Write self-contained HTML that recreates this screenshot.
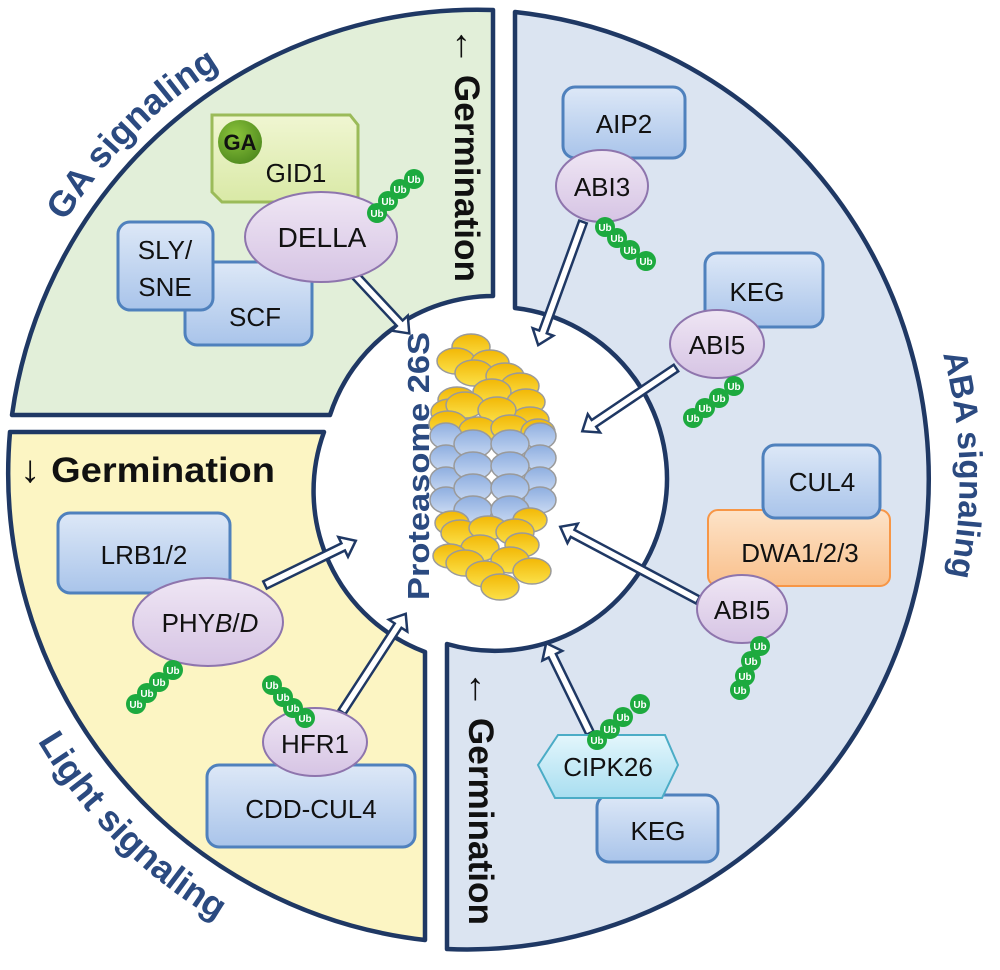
<!DOCTYPE html>
<html><head><meta charset="utf-8"><style>
html,body{margin:0;padding:0;background:#fff;}
svg{display:block;font-family:"Liberation Sans",sans-serif;}
</style></head><body>
<svg width="1000" height="970" viewBox="0 0 1000 970" xmlns="http://www.w3.org/2000/svg">
<defs>
<linearGradient id="bx" x1="0" y1="0" x2="0" y2="1"><stop offset="0" stop-color="#dde8f7"/><stop offset="1" stop-color="#a9c4ea"/></linearGradient>
<linearGradient id="el" x1="0" y1="0" x2="0" y2="1"><stop offset="0" stop-color="#efe6f4"/><stop offset="1" stop-color="#d6c4e4"/></linearGradient>
<linearGradient id="gr" x1="0" y1="0" x2="0" y2="1"><stop offset="0" stop-color="#f0f6d2"/><stop offset="1" stop-color="#d9e9a6"/></linearGradient>
<linearGradient id="or" x1="0" y1="0" x2="0" y2="1"><stop offset="0" stop-color="#fde3c8"/><stop offset="1" stop-color="#f9c08c"/></linearGradient>
<linearGradient id="cy" x1="0" y1="0" x2="0" y2="1"><stop offset="0" stop-color="#e3f6fc"/><stop offset="1" stop-color="#a8def0"/></linearGradient>
<linearGradient id="yl" x1="0" y1="0" x2="0" y2="1"><stop offset="0" stop-color="#f2b705"/><stop offset="1" stop-color="#fbe14a"/></linearGradient>
<linearGradient id="bl" x1="0" y1="0" x2="0" y2="1"><stop offset="0" stop-color="#8eaee0"/><stop offset="1" stop-color="#c9d9f2"/></linearGradient>
<radialGradient id="ga" cx="0.4" cy="0.35" r="0.7"><stop offset="0" stop-color="#8cc43c"/><stop offset="1" stop-color="#4f8a1e"/></radialGradient>
<path id="pGA" d="M -9,480 A 487 487 0 0 1 478,-7"/>
<path id="pLi" d="M -34,480 A 512 512 0 0 0 478,992"/>
<path id="pABA" d="M 895,239 A 482 482 0 0 1 895,721"/>
</defs>

<path d="M12,415 A470 470 0 0 1 493,10 L493,296 A172 172 0 0 0 330,415 Z" fill="#e2efd9" stroke="#1f3864" stroke-width="4.5" stroke-linejoin="round"/>
<path d="M10,432 L324,432 A172 172 0 0 0 425,652 L425,940 A470 470 0 0 1 10,432 Z" fill="#fcf5c3" stroke="#1f3864" stroke-width="4.5" stroke-linejoin="round"/>
<path d="M515,12 L515,308 A172 172 0 1 1 447,644 L447,949 A462 470 0 0 0 515,12 Z" fill="#dbe4f1" stroke="#1f3864" stroke-width="4.5" stroke-linejoin="round"/>

<text font-size="36" font-weight="bold" fill="#2b4a80"><textPath href="#pGA" startOffset="50%" text-anchor="middle">GA signaling</textPath></text>
<text font-size="36" font-weight="bold" fill="#2b4a80"><textPath href="#pLi" startOffset="50%" text-anchor="middle">Light signaling</textPath></text>
<text font-size="33" font-weight="bold" fill="#2b4a80"><textPath href="#pABA" startOffset="47%" text-anchor="middle">ABA signaling</textPath></text>

<text transform="translate(455,27) rotate(90)" font-size="35" font-weight="bold" fill="#111" textLength="255" lengthAdjust="spacingAndGlyphs"><tspan font-size="38">←</tspan> Germination</text>
<text transform="translate(469,670) rotate(90)" font-size="35" font-weight="bold" fill="#111" textLength="255" lengthAdjust="spacingAndGlyphs"><tspan font-size="38">←</tspan> Germination</text>
<text x="20" y="482" font-size="35" font-weight="bold" fill="#111" textLength="255" lengthAdjust="spacingAndGlyphs"><tspan font-size="38">↓</tspan> Germination</text>
<text transform="translate(429,600) rotate(-90)" font-size="31" font-weight="bold" fill="#2b4a80" textLength="268" lengthAdjust="spacingAndGlyphs">Proteasome 26S</text>

<g stroke="#9a9a9a" stroke-width="1.5">
<g fill="url(#yl)">
<ellipse cx="471" cy="347" rx="19" ry="13"/><ellipse cx="456" cy="361" rx="19" ry="13"/><ellipse cx="490" cy="363" rx="19" ry="13"/>
<ellipse cx="474" cy="373" rx="19" ry="13"/><ellipse cx="505" cy="376" rx="19" ry="13"/><ellipse cx="520" cy="386" rx="19" ry="13"/>
<ellipse cx="492" cy="392" rx="19" ry="13"/><ellipse cx="526" cy="402" rx="19" ry="13"/>
<ellipse cx="457" cy="400" rx="19" ry="13"/><ellipse cx="450" cy="412" rx="19" ry="13"/><ellipse cx="530" cy="420" rx="19" ry="13"/>
<ellipse cx="465" cy="405" rx="19" ry="13"/><ellipse cx="497" cy="410" rx="19" ry="13"/>
<ellipse cx="448" cy="424" rx="19" ry="13"/><ellipse cx="478" cy="430" rx="19" ry="13"/><ellipse cx="510" cy="428" rx="19" ry="13"/><ellipse cx="538" cy="432" rx="17" ry="13"/>
</g>
<g fill="url(#bl)">
<ellipse cx="446" cy="436" rx="16" ry="13"/><ellipse cx="540" cy="436" rx="16" ry="13"/>
<ellipse cx="446" cy="458" rx="16" ry="13"/><ellipse cx="540" cy="458" rx="16" ry="13"/>
<ellipse cx="446" cy="480" rx="16" ry="13"/><ellipse cx="540" cy="480" rx="16" ry="13"/>
<ellipse cx="446" cy="500" rx="16" ry="13"/><ellipse cx="540" cy="500" rx="16" ry="13"/>
<ellipse cx="473" cy="444" rx="19" ry="14"/><ellipse cx="510" cy="444" rx="19" ry="14"/>
<ellipse cx="473" cy="466" rx="19" ry="14"/><ellipse cx="510" cy="466" rx="19" ry="14"/>
<ellipse cx="473" cy="488" rx="19" ry="14"/><ellipse cx="510" cy="488" rx="19" ry="14"/>
<ellipse cx="473" cy="510" rx="19" ry="14"/><ellipse cx="510" cy="510" rx="19" ry="14"/>
</g>
<g fill="url(#yl)">
<ellipse cx="452" cy="523" rx="17" ry="12"/><ellipse cx="530" cy="520" rx="17" ry="12"/>
<ellipse cx="460" cy="533" rx="19" ry="13"/><ellipse cx="488" cy="528" rx="19" ry="12"/><ellipse cx="515" cy="532" rx="19" ry="13"/><ellipse cx="522" cy="545" rx="17" ry="12"/>
<ellipse cx="480" cy="548" rx="19" ry="13"/><ellipse cx="450" cy="556" rx="17" ry="12"/><ellipse cx="510" cy="560" rx="19" ry="13"/>
<ellipse cx="465" cy="563" rx="19" ry="13"/><ellipse cx="532" cy="571" rx="19" ry="13"/>
<ellipse cx="485" cy="574" rx="19" ry="13"/><ellipse cx="500" cy="587" rx="19" ry="13"/>
</g>
</g>

<g fill="#fff" stroke="#1f3864" stroke-width="2.5" stroke-linejoin="miter">
<path transform="translate(352,272) rotate(47)" d="M0,-4 H70 V-11 L84,0 L70,11 V4 H0 Z"/>
<path transform="translate(583,222) rotate(110)" d="M0,-4 H117 V-11 L131,0 L117,11 V4 H0 Z"/>
<path transform="translate(676,368) rotate(146)" d="M0,-4 H99 V-11 L113,0 L99,11 V4 H0 Z"/>
<path transform="translate(698,600) rotate(208)" d="M0,-4 H142 V-11 L156,0 L142,11 V4 H0 Z"/>
<path transform="translate(590,733) rotate(244)" d="M0,-4 H86 V-11 L100,0 L86,11 V4 H0 Z"/>
<path transform="translate(342,712) rotate(-57)" d="M0,-4 H103 V-11 L117,0 L103,11 V4 H0 Z"/>
<path transform="translate(265,585) rotate(-26)" d="M0,-4 H87 V-11 L101,0 L87,11 V4 H0 Z"/>
</g>

<path d="M212,115 H350 L358,125 V202 H222 L212,192 Z" fill="url(#gr)" stroke="#9bbb59" stroke-width="3"/>
<circle cx="240" cy="142" r="22" fill="url(#ga)"/>
<text x="240" y="150" font-size="22" font-weight="bold" text-anchor="middle" fill="#111">GA</text>
<text x="296" y="182" font-size="26" text-anchor="middle" fill="#111">GID1</text>
<rect x="185" y="262" width="127" height="83" rx="12" fill="url(#bx)" stroke="#4f81bd" stroke-width="3"/>
<text x="255" y="326" font-size="26" text-anchor="middle" fill="#111">SCF</text>
<rect x="118" y="222" width="95" height="88" rx="12" fill="url(#bx)" stroke="#4f81bd" stroke-width="3"/>
<text x="165" y="259" font-size="26" text-anchor="middle" fill="#111">SLY/</text>
<text x="165" y="296" font-size="26" text-anchor="middle" fill="#111">SNE</text>
<ellipse cx="321" cy="237" rx="76" ry="45" fill="url(#el)" stroke="#8e75ad" stroke-width="2"/>
<text x="322" y="247" font-size="28" text-anchor="middle" fill="#111">DELLA</text>

<rect x="563" y="87" width="122" height="71" rx="12" fill="url(#bx)" stroke="#4f81bd" stroke-width="3"/>
<text x="624" y="133" font-size="26" text-anchor="middle" fill="#111">AIP2</text>
<ellipse cx="602" cy="186" rx="46" ry="36" fill="url(#el)" stroke="#8e75ad" stroke-width="2"/>
<text x="602" y="196" font-size="26" text-anchor="middle" fill="#111">ABI3</text>
<rect x="705" y="253" width="118" height="74" rx="12" fill="url(#bx)" stroke="#4f81bd" stroke-width="3"/>
<text x="757" y="301" font-size="26" text-anchor="middle" fill="#111">KEG</text>
<ellipse cx="717" cy="344" rx="47" ry="34" fill="url(#el)" stroke="#8e75ad" stroke-width="2"/>
<text x="717" y="354" font-size="26" text-anchor="middle" fill="#111">ABI5</text>
<rect x="708" y="510" width="182" height="76" rx="10" fill="url(#or)" stroke="#f79646" stroke-width="2"/>
<text x="800" y="562" font-size="26" text-anchor="middle" fill="#111">DWA1/2/3</text>
<rect x="763" y="445" width="117" height="73" rx="12" fill="url(#bx)" stroke="#4f81bd" stroke-width="3"/>
<text x="822" y="491" font-size="26" text-anchor="middle" fill="#111">CUL4</text>
<ellipse cx="742" cy="609" rx="45" ry="34" fill="url(#el)" stroke="#8e75ad" stroke-width="2"/>
<text x="742" y="619" font-size="26" text-anchor="middle" fill="#111">ABI5</text>
<rect x="597" y="795" width="121" height="67" rx="12" fill="url(#bx)" stroke="#4f81bd" stroke-width="3"/>
<text x="658" y="840" font-size="26" text-anchor="middle" fill="#111">KEG</text>
<path d="M558,735 H665 L678,765 L662,798 H555 L538,765 Z" fill="url(#cy)" stroke="#4bacc6" stroke-width="2"/>
<text x="608" y="776" font-size="26" text-anchor="middle" fill="#111">CIPK26</text>

<rect x="58" y="513" width="172" height="80" rx="12" fill="url(#bx)" stroke="#4f81bd" stroke-width="3"/>
<text x="144" y="564" font-size="26" text-anchor="middle" fill="#111">LRB1/2</text>
<ellipse cx="208" cy="622" rx="75" ry="44" fill="url(#el)" stroke="#8e75ad" stroke-width="2"/>
<text x="210" y="632" font-size="26" text-anchor="middle" fill="#111">PHY<tspan font-style="italic">B</tspan>/<tspan font-style="italic">D</tspan></text>
<rect x="207" y="765" width="208" height="82" rx="12" fill="url(#bx)" stroke="#4f81bd" stroke-width="3"/>
<text x="311" y="818" font-size="26" text-anchor="middle" fill="#111">CDD-CUL4</text>
<ellipse cx="315" cy="742" rx="52" ry="34" fill="url(#el)" stroke="#8e75ad" stroke-width="2"/>
<text x="315" y="753" font-size="26" text-anchor="middle" fill="#111">HFR1</text>

<g font-size="10" font-weight="bold" fill="#fff" text-anchor="middle">
<g><circle cx="377" cy="213" r="10" fill="#1daa3f"/><text x="377" y="217">Ub</text><circle cx="388" cy="201" r="10" fill="#1daa3f"/><text x="388" y="205">Ub</text><circle cx="400" cy="189" r="10" fill="#1daa3f"/><text x="400" y="193">Ub</text><circle cx="414" cy="179" r="10" fill="#1daa3f"/><text x="414" y="183">Ub</text></g>
<g><circle cx="605" cy="227" r="10" fill="#1daa3f"/><text x="605" y="231">Ub</text><circle cx="617" cy="238" r="10" fill="#1daa3f"/><text x="617" y="242">Ub</text><circle cx="630" cy="250" r="10" fill="#1daa3f"/><text x="630" y="254">Ub</text><circle cx="646" cy="261" r="10" fill="#1daa3f"/><text x="646" y="265">Ub</text></g>
<g><circle cx="693" cy="418" r="10" fill="#1daa3f"/><text x="693" y="422">Ub</text><circle cx="705" cy="408" r="10" fill="#1daa3f"/><text x="705" y="412">Ub</text><circle cx="719" cy="398" r="10" fill="#1daa3f"/><text x="719" y="402">Ub</text><circle cx="734" cy="386" r="10" fill="#1daa3f"/><text x="734" y="390">Ub</text></g>
<g><circle cx="740" cy="690" r="10" fill="#1daa3f"/><text x="740" y="694">Ub</text><circle cx="745" cy="676" r="10" fill="#1daa3f"/><text x="745" y="680">Ub</text><circle cx="751" cy="661" r="10" fill="#1daa3f"/><text x="751" y="665">Ub</text><circle cx="760" cy="646" r="10" fill="#1daa3f"/><text x="760" y="650">Ub</text></g>
<g><circle cx="597" cy="740" r="10" fill="#1daa3f"/><text x="597" y="744">Ub</text><circle cx="610" cy="729" r="10" fill="#1daa3f"/><text x="610" y="733">Ub</text><circle cx="623" cy="717" r="10" fill="#1daa3f"/><text x="623" y="721">Ub</text><circle cx="640" cy="704" r="10" fill="#1daa3f"/><text x="640" y="708">Ub</text></g>
<g><circle cx="136" cy="704" r="10" fill="#1daa3f"/><text x="136" y="708">Ub</text><circle cx="147" cy="693" r="10" fill="#1daa3f"/><text x="147" y="697">Ub</text><circle cx="159" cy="682" r="10" fill="#1daa3f"/><text x="159" y="686">Ub</text><circle cx="173" cy="670" r="10" fill="#1daa3f"/><text x="173" y="674">Ub</text></g>
<g><circle cx="305" cy="718" r="10" fill="#1daa3f"/><text x="305" y="722">Ub</text><circle cx="293" cy="708" r="10" fill="#1daa3f"/><text x="293" y="712">Ub</text><circle cx="283" cy="697" r="10" fill="#1daa3f"/><text x="283" y="701">Ub</text><circle cx="272" cy="685" r="10" fill="#1daa3f"/><text x="272" y="689">Ub</text></g>
</g>
</svg>
</body></html>
